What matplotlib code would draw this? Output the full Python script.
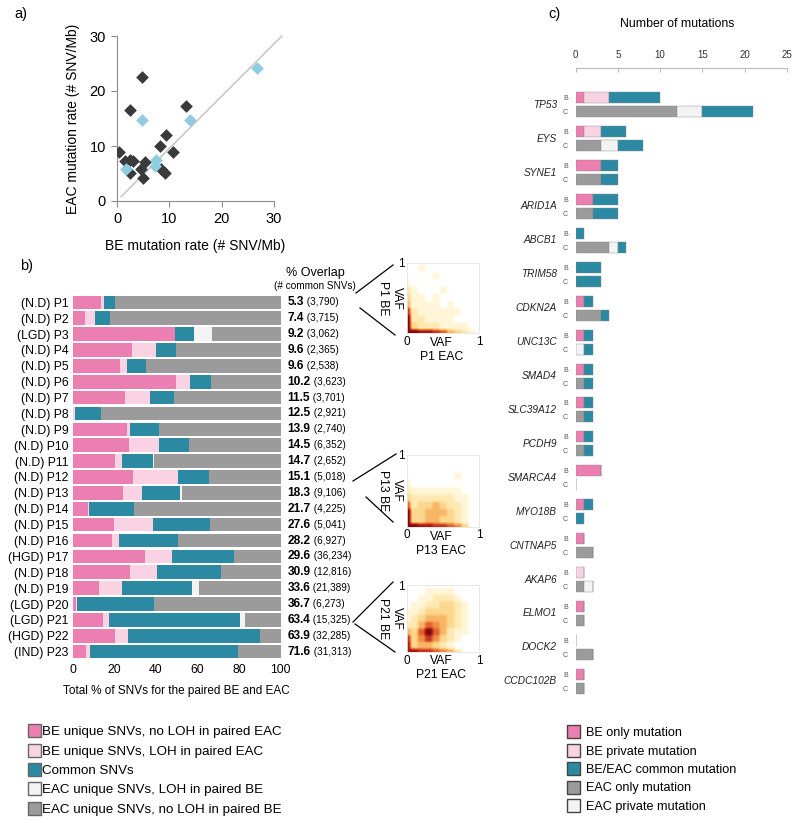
import numpy as np
import matplotlib
matplotlib.use('Agg')
import matplotlib.pyplot as plt
from matplotlib.colors import LinearSegmentedColormap
from matplotlib.lines import Line2D
from matplotlib.patches import Rectangle

plt.rcParams['font.family'] = ['Liberation Sans', 'DejaVu Sans']

W, H = 800, 823

# colours
PINK = '#ec7fb1'
LPINK = '#f9d3e3'
TEAL = '#2b8aa1'
OFFWHITE = '#f3f3f3'
GRAY = '#9b9b9b'
DARK = '#3a3a3a'
LBLUE = '#8ecde0'

# =========================
# panel a data
# =========================
be_rate_dark = [0.3, 1.6, 2.4, 3.0, 2.55, 2.55, 4.8, 4.5, 4.9, 5.4, 8.2, 9.4, 8.5, 9.25, 10.7, 13.2]
eac_rate_dark = [8.9, 7.2, 7.5, 7.3, 5.1, 16.5, 22.6, 5.8, 4.25, 7.1, 10.0, 12.0, 5.8, 5.1, 9.0, 17.2]
be_rate_light = [1.8, 4.8, 7.5, 7.3, 14.0, 26.7]
eac_rate_light = [5.9, 14.7, 7.5, 6.3, 14.8, 24.1]

# =========================
# panel b data
# =========================
patients = ['P%d' % i for i in range(1, 24)]
grades = ['N.D', 'N.D', 'LGD', 'N.D', 'N.D', 'N.D', 'N.D', 'N.D', 'N.D', 'N.D',
          'N.D', 'N.D', 'N.D', 'N.D', 'N.D', 'N.D', 'HGD', 'N.D', 'N.D', 'LGD',
          'LGD', 'HGD', 'IND']
be_unique = [13.6, 5.9, 49.1, 28.5, 22.7, 49.6, 25.4, 0.0, 26.2, 27.0, 20.3, 29.1,
             24.0, 7.5, 19.8, 18.7, 34.7, 27.8, 12.8, 1.6, 14.7, 20.3, 6.2]
be_loh = [1.6, 4.8, 0.0, 11.4, 3.2, 6.7, 12.0, 1.3, 1.6, 14.6, 3.5, 21.6,
          9.4, 0.5, 18.7, 3.7, 13.3, 12.6, 11.0, 0.6, 2.6, 6.1, 1.9]
overlap = [5.3, 7.4, 9.2, 9.6, 9.6, 10.2, 11.5, 12.5, 13.9, 14.5, 14.7, 15.1,
           18.3, 21.7, 27.6, 28.2, 29.6, 30.9, 33.6, 36.7, 63.4, 63.9, 71.6]
eac_loh = [0.0, 0.0, 8.6, 0.0, 0.0, 0.0, 0.0, 0.0, 0.0, 0.0, 0.6, 0.0,
           1.1, 0.0, 0.0, 0.0, 0.0, 0.0, 3.2, 0.0, 2.1, 0.0, 0.0]
common_snvs = ['3,790', '3,715', '3,062', '2,365', '2,538', '3,623', '3,701', '2,921',
               '2,740', '6,352', '2,652', '5,018', '9,106', '4,225', '5,041', '6,927',
               '36,234', '12,816', '21,389', '6,273', '15,325', '32,285', '31,313']

# VAF density grids (rows from BE VAF 0 upwards, columns EAC VAF 0 -> 1)
# first row / column is the narrow bin hugging the axis
vaf_p1 = [
    [9, 9, 8, 8, 7, 6, 4, 3, 2, 1],
    [9, 3, 2, 2, 2, 1, 1, 1, 1, 0],
    [9, 2, 2, 1, 1, 1, 1, 0, 0, 0],
    [7, 2, 1, 1, 1, 1, 1, 1, 0, 0],
    [4, 1, 1, 1, 1, 0, 1, 0, 0, 0],
    [3, 1, 1, 0, 1, 0, 0, 0, 0, 0],
    [2, 1, 0, 0, 0, 1, 0, 0, 0, 0],
    [1, 0, 0, 0, 0, 0, 0, 0, 0, 0],
    [0, 0, 0, 0, 1, 0, 0, 0, 0, 0],
    [0, 0, 1, 0, 0, 0, 0, 0, 0, 0],
]
vaf_p13 = [
    [9, 9, 8, 8, 7, 7, 6, 5, 3, 0],
    [9, 3, 3, 4, 4, 3, 3, 2, 1, 0],
    [9, 3, 3, 4, 4, 4, 3, 2, 1, 0],
    [6, 2, 3, 3, 4, 3, 2, 2, 1, 0],
    [3, 2, 2, 2, 2, 2, 2, 1, 1, 0],
    [2, 1, 1, 1, 1, 1, 1, 1, 0, 0],
    [1, 0, 0, 0, 0, 0, 0, 0, 0, 0],
    [0, 0, 0, 0, 0, 0, 0, 1, 0, 0],
    [0, 0, 0, 0, 0, 0, 0, 0, 0, 0],
    [0, 0, 0, 0, 0, 0, 0, 0, 0, 0],
]
vaf_p21 = [
    [8, 8, 7, 7, 6, 5, 4, 2, 0, 0],
    [8, 3, 4, 4, 3, 2, 1, 0, 0, 0],
    [7, 3, 5, 7, 5, 3, 2, 1, 0, 0],
    [4, 3, 6, 9, 6, 4, 2, 1, 1, 0],
    [2, 2, 4, 6, 5, 4, 3, 2, 1, 0],
    [1, 2, 3, 4, 4, 4, 3, 2, 1, 0],
    [1, 1, 2, 3, 3, 3, 3, 2, 1, 0],
    [0, 1, 1, 2, 2, 3, 3, 2, 1, 0],
    [0, 0, 1, 1, 2, 2, 2, 1, 0, 0],
    [0, 0, 0, 1, 1, 1, 1, 0, 0, 0],
]

# =========================
# panel c data
# =========================
genes = ['TP53', 'EYS', 'SYNE1', 'ARID1A', 'ABCB1', 'TRIM58', 'CDKN2A', 'UNC13C',
         'SMAD4', 'SLC39A12', 'PCDH9', 'SMARCA4', 'MYO18B', 'CNTNAP5', 'AKAP6',
         'ELMO1', 'DOCK2', 'CCDC102B']
be_only = [1, 1, 3, 2, 0, 0, 1, 1, 1, 1, 1, 3, 1, 1, 0, 1, 0, 1]
be_private = [3, 2, 0, 0, 0, 0, 0, 0, 0, 0, 0, 0, 0, 0, 1, 0, 0, 0]
be_common = [6, 3, 2, 3, 1, 3, 1, 1, 1, 1, 1, 0, 1, 0, 0, 0, 0, 0]
eac_only = [12, 3, 3, 2, 4, 0, 3, 0, 1, 1, 1, 0, 0, 2, 1, 1, 2, 1]
eac_private = [3, 2, 0, 0, 1, 0, 0, 1, 0, 0, 0, 0, 0, 0, 1, 0, 0, 0]
eac_common = [6, 3, 2, 3, 1, 3, 1, 1, 1, 1, 1, 0, 1, 0, 0, 0, 0, 0]


def px_rect(l, t, r, b):
    return [l / W, 1 - b / H, (r - l) / W, (b - t) / H]


def fx(x):
    return x / W


def fy(y):
    return 1 - y / H


fig = plt.figure(figsize=(W / 100, H / 100), dpi=100)

# ---------- a) ----------
axa = fig.add_axes(px_rect(117, 36, 274, 201))
axa.plot([0.8, 31.5], [0.8, 30], color='#c8c8c8', lw=1.2, clip_on=False, zorder=1)
axa.scatter(be_rate_dark, eac_rate_dark, marker='D', s=42, color=DARK, zorder=3, linewidths=0)
axa.scatter(be_rate_light, eac_rate_light, marker='D', s=42, color=LBLUE, zorder=3, linewidths=0)
axa.set_xlim(0, 30)
axa.set_ylim(0, 30)
axa.set_xticks([0, 10, 20, 30])
axa.set_yticks([0, 10, 20, 30])
for s in ['top', 'right']:
    axa.spines[s].set_visible(False)
for s in ['left', 'bottom']:
    axa.spines[s].set_color('#8c8c8c')
axa.tick_params(direction='out', length=4, color='#8c8c8c', labelsize=10.5, pad=4)
axa.set_xlabel('BE mutation rate (# SNV/Mb)', fontsize=10, labelpad=9)
axa.set_ylabel('EAC mutation rate (# SNV/Mb)', fontsize=10, labelpad=7)
fig.text(fx(14), fy(14), 'a)', fontsize=10.5, va='center')

# ---------- b) ----------
n = len(patients)
eac_unique = [100 - a - b - c - d for a, b, c, d in zip(be_unique, be_loh, overlap, eac_loh)]
axb = fig.add_axes(px_rect(72.7, 294.4, 280.5, 659.6))
ypos = np.arange(n)
left = np.zeros(n)
for vals, col in [(be_unique, PINK), (be_loh, LPINK), (overlap, TEAL),
                  (eac_loh, OFFWHITE), (eac_unique, GRAY)]:
    axb.barh(ypos, vals, left=left, height=0.86, color=col, edgecolor='none')
    left += np.array(vals)
axb.set_xlim(0, 100)
axb.set_ylim(n - 0.5, -0.5)
axb.set_yticks(ypos)
axb.set_yticklabels(['(%s) %s' % (g, p) for g, p in zip(grades, patients)], fontsize=8.8)
axb.set_xticks([0, 20, 40, 60, 80, 100])
axb.tick_params(length=0, labelsize=8.8)
axb.tick_params(axis='y', pad=3)
axb.tick_params(axis='x', pad=3)
for s in axb.spines.values():
    s.set_visible(False)
axb.set_xlabel('Total % of SNVs for the paired BE and EAC', fontsize=8.5, labelpad=7)
for i in range(n):
    t = axb.text(103.4, i, '%.1f' % overlap[i], fontsize=8.6, fontweight='bold',
                 va='center', ha='left', clip_on=False)
    axb.annotate(' (%s)' % common_snvs[i], xy=(1, 0.5), xycoords=t, va='center',
                 ha='left', fontsize=7.2)
fig.text(fx(315), fy(273), '% Overlap', fontsize=9, ha='center', va='center')
fig.text(fx(315), fy(286), '(# common SNVs)', fontsize=7.2, ha='center', va='center')
fig.text(fx(20), fy(266), 'b)', fontsize=10.5, va='center')

# VAF heatmaps: narrow first bin, then 9 regular bins (in 0.05 steps)
cmap = LinearSegmentedColormap.from_list(
    'vaf', ['#ffffff', '#fff2c6', '#fcd88e', '#f5a553', '#e1622f', '#b6231c', '#7d0a12'])
reps = [1] + [2] * 9
heat = [(vaf_p1, 'P1', 262.7, 333.3), (vaf_p13, 'P13', 455, 526.7), (vaf_p21, 'P21', 585, 652)]
for grid, name, top, bot in heat:
    axh = fig.add_axes(px_rect(407.3, top, 479.3, bot))
    fine = np.repeat(np.repeat(np.array(grid, dtype=float), reps, axis=0), reps, axis=1)
    axh.imshow(fine, origin='lower', extent=(0, 0.95, 0, 0.95), cmap=cmap,
               vmin=0, vmax=9, interpolation='bilinear', aspect='auto')
    axh.set_xlim(0, 1)
    axh.set_ylim(0, 1)
    axh.set_xticks([0, 1])
    axh.set_yticks([1])
    axh.tick_params(length=0, labelsize=8.5, pad=2)
    for s in axh.spines.values():
        s.set_color('#e4e4e4')
        s.set_linewidth(0.6)
    axh.text(0.47, -0.14, 'VAF', transform=axh.transAxes, ha='center', va='center', fontsize=8.7)
    axh.text(0.47, -0.34, '%s EAC' % name, transform=axh.transAxes, ha='center', va='center',
             fontsize=8.7)
    axh.text(-0.24, 0.5, 'VAF\n%s BE' % name, transform=axh.transAxes, rotation=-90,
             ha='center', va='center', fontsize=8.7, linespacing=1.15)

# connector lines
connectors = [((356, 293), (393, 265)), ((360, 308), (395, 335)),
              ((353, 481), (396, 454)), ((366, 497), (393, 522)),
              ((353, 622), (393, 582)), ((355, 624), (395, 652))]
for (x0, y0), (x1, y1) in connectors:
    fig.add_artist(Line2D([fx(x0), fx(x1)], [fy(y0), fy(y1)], color='black', lw=0.9))

# legend b
leg_b = [(PINK, 'BE unique SNVs, no LOH in paired EAC'),
         (LPINK, 'BE unique SNVs, LOH in paired EAC'),
         (TEAL, 'Common SNVs'),
         (OFFWHITE, 'EAC unique SNVs, LOH in paired BE'),
         (GRAY, 'EAC unique SNVs, no LOH in paired BE')]
for k, (col, lab) in enumerate(leg_b):
    yc = 732.4 + k * 19.3
    fig.add_artist(Rectangle((fx(28), fy(yc + 5)), 13 / W, 13 / H, facecolor=col,
                             edgecolor='#666666', lw=1, transform=fig.transFigure))
    fig.text(fx(42.5), fy(yc), lab, fontsize=9.6, va='center', ha='left')

# ---------- c) ----------
axc = fig.add_axes(px_rect(575.7, 68.3, 786.7, 700))
g = len(genes)
yb = np.arange(g)
yc_ = yb + 14 / 34
hb = 11 / 34
left = np.zeros(g)
for vals, col in [(be_only, PINK), (be_private, LPINK), (be_common, TEAL)]:
    axc.barh(yb, vals, left=left, height=hb, color=col, edgecolor='#8a8a8a', lw=0.3)
    left += np.array(vals)
left = np.zeros(g)
for vals, col in [(eac_only, GRAY), (eac_private, OFFWHITE), (eac_common, TEAL)]:
    axc.barh(yc_, vals, left=left, height=hb, color=col, edgecolor='#8a8a8a', lw=0.3)
    left += np.array(vals)
# zero-length rows shown as a thin stub
for i in range(g):
    if be_only[i] + be_private[i] + be_common[i] == 0:
        axc.plot([0, 0], [yb[i] - hb / 2, yb[i] + hb / 2], color='#cfcfcf', lw=1.2)
    if eac_only[i] + eac_private[i] + eac_common[i] == 0:
        axc.plot([0, 0], [yc_[i] - hb / 2, yc_[i] + hb / 2], color='#cfcfcf', lw=1.2)
axc.set_xlim(0, 25)
axc.set_ylim((700 - 97.7) / 33.92, (68.3 - 97.7) / 33.92)
axc.xaxis.tick_top()
axc.set_xticks([0, 5, 10, 15, 20, 25])
axc.tick_params(axis='x', direction='in', length=3, color='#bbbbbb', labelsize=7,
                pad=6, labelcolor='#333333')
axc.set_yticks(np.concatenate([yb, yc_]))
axc.set_yticklabels(['B'] * g + ['C'] * g, fontsize=5, color='#555555')
axc.tick_params(axis='y', length=0, pad=5.5)
for s in ['bottom', 'left', 'right']:
    axc.spines[s].set_visible(False)
axc.spines['top'].set_color('#bbbbbb')
for i, gene in enumerate(genes):
    axc.text(-0.089, yb[i] + 0.206, gene, transform=axc.get_yaxis_transform(),
             ha='right', va='center', fontsize=7.3, style='italic', color='#222222')
fig.text(fx(677), fy(24), 'Number of mutations', fontsize=8.8, ha='center', va='center')
fig.text(fx(548), fy(14), 'c)', fontsize=10.5, va='center')

leg_c = [(PINK, 'BE only mutation'),
         (LPINK, 'BE private mutation'),
         (TEAL, 'BE/EAC common mutation'),
         (GRAY, 'EAC only mutation'),
         (OFFWHITE, 'EAC private mutation')]
for k, (col, lab) in enumerate(leg_c):
    yc = 733 + k * 18.5
    fig.add_artist(Rectangle((fx(567), fy(yc + 5)), 13 / W, 13 / H, facecolor=col,
                             edgecolor='#444444', lw=1, transform=fig.transFigure))
    fig.text(fx(586.5), fy(yc), lab, fontsize=9.1, va='center', ha='left')

fig.savefig('out.png', dpi=100)
